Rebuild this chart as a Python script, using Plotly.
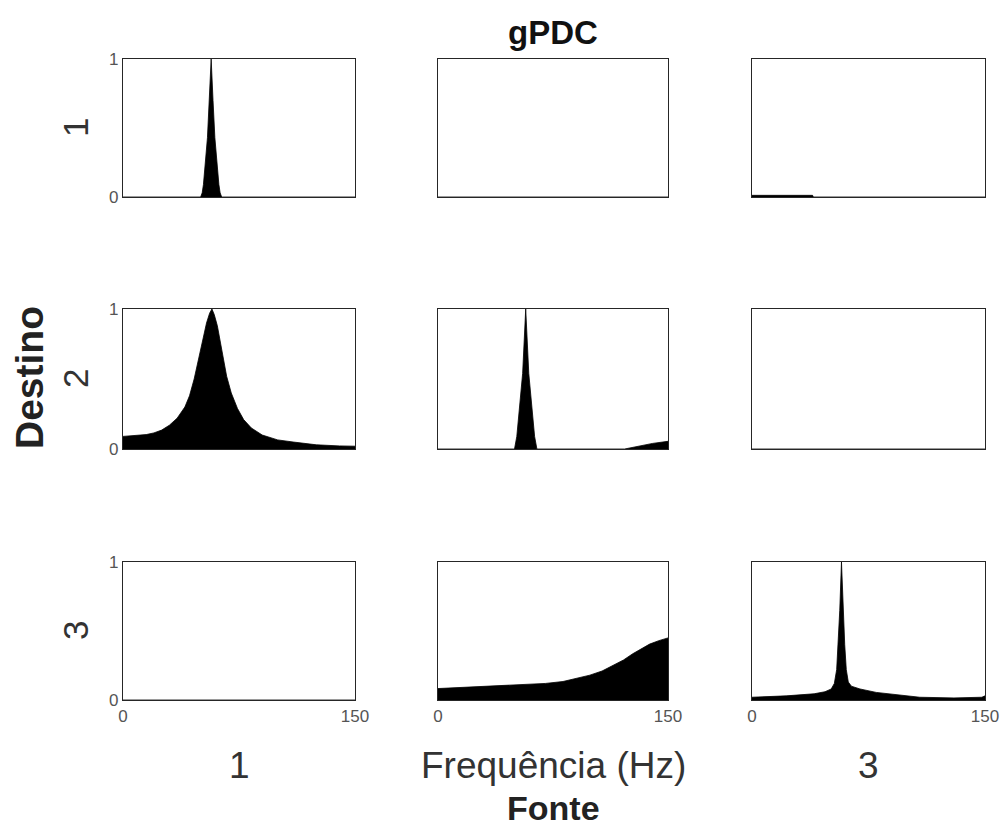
import plotly.graph_objects as go

# ---- data ----
f11 = [0, 50.2, 51.2, 52, 54.6, 55.8, 57, 58.2, 59.4, 62, 62.8, 63.8, 150]
v11 = [0, 0, 0.03, 0.09, 0.43, 0.7, 1.0, 0.7, 0.43, 0.09, 0.03, 0, 0]

f12 = [0, 150]
v12 = [0, 0]

f13 = [0, 39, 39.5, 150]
v13 = [0.012, 0.012, 0, 0]

f21 = [0, 5, 10, 15, 20, 25, 30, 35, 40, 43, 46, 49, 52, 54, 56, 57.5, 59, 61, 63, 65, 67, 70, 74, 78,
       83, 90, 100, 110, 125, 140, 150]
v21 = [0.09, 0.093, 0.097, 0.103, 0.115, 0.135, 0.17, 0.22, 0.3, 0.38, 0.5, 0.64, 0.8, 0.9, 0.97, 1.0,
       0.96, 0.88, 0.76, 0.63, 0.52, 0.4, 0.29, 0.21, 0.15, 0.1, 0.065, 0.05, 0.03, 0.022, 0.02]

f22 = [0, 49.9, 51.4, 55.2, 57.2, 59.2, 63, 64.5, 121.7, 130, 140, 150]
v22 = [0, 0, 0.09, 0.54, 1.0, 0.54, 0.09, 0, 0, 0.02, 0.04, 0.055]

f23 = [0, 150]
v23 = [0, 0]

f31 = [0, 150]
v31 = [0, 0]

f32 = [0, 15, 35, 55, 70, 81.5, 90, 99, 107, 114, 121, 127, 133, 138, 144, 150]
v32 = [0.083, 0.09, 0.1, 0.11, 0.12, 0.134, 0.155, 0.18, 0.21, 0.25, 0.29, 0.335, 0.375, 0.405, 0.43, 0.45]

f33 = [0, 22, 40, 47, 51, 53, 54.5, 55.5, 56.5, 57.6, 58.7, 59.7, 60.7, 62, 64, 69.5, 80, 95, 108, 130,
       148, 150]
v33 = [0.02, 0.03, 0.045, 0.06, 0.08, 0.12, 0.22, 0.4, 0.65, 1.0, 0.65, 0.4, 0.22, 0.13, 0.1, 0.08,
       0.055, 0.035, 0.02, 0.015, 0.02, 0.03]

panels = [[(f11, v11), (f12, v12), (f13, v13)],
          [(f21, v21), (f22, v22), (f23, v23)],
          [(f31, v31), (f32, v32), (f33, v33)]]

row_labels = ["1", "2", "3"]
col_labels = ["1", "Frequência (Hz)", "3"]
x_ticks = [0, 150]
y_ticks = [0, 1]
title = "gPDC"
ylab = "Destino"
xlab = "Fonte"

# ---- layout geometry ----
W, H = 1005, 828


def px(x):
    return x / W


def py(y):
    return 1 - y / H


xdoms = [(px(123), px(355)), (px(438), px(668)), (px(752), px(985))]
ydoms = [(py(197), py(59)), (py(449), py(309)), (py(700), py(562))]

FONT = "Liberation Sans, Arial, Helvetica, sans-serif"
fig = go.Figure()
layout = {}
for r in range(3):
    for c in range(3):
        k = r * 3 + c + 1
        xa = "x" if k == 1 else f"x{k}"
        ya = "y" if k == 1 else f"y{k}"
        f, v = panels[r][c]
        fig.add_trace(go.Scatter(x=f, y=v, xaxis=xa, yaxis=ya, mode="lines",
                                 fill="tozeroy", fillcolor="black",
                                 line=dict(color="black", width=0.8),
                                 showlegend=False, hoverinfo="skip"))
        xkey = "xaxis" if k == 1 else f"xaxis{k}"
        ykey = "yaxis" if k == 1 else f"yaxis{k}"
        layout[xkey] = dict(domain=list(xdoms[c]), range=[0, 150], anchor=ya, automargin=False,
                            showline=True, mirror=True, linecolor="#262626", linewidth=1.2,
                            showgrid=False, zeroline=False, ticks="",
                            tickvals=x_ticks, showticklabels=(r == 2),
                            tickfont=dict(family=FONT, size=17, color="#555555"))
        layout[ykey] = dict(domain=list(ydoms[r]), range=[0, 1], anchor=xa, automargin=False,
                            showline=True, mirror=True, linecolor="#262626", linewidth=1.2,
                            showgrid=False, zeroline=False, ticks="",
                            tickvals=y_ticks, showticklabels=(c == 0),
                            tickfont=dict(family=FONT, size=17, color="#555555"))

fig.update_layout(**layout)

ann = []
ann.append(dict(text=f"<b>{title}</b>", x=px(553), y=py(33), xref="paper", yref="paper",
                showarrow=False, font=dict(family=FONT, size=33, color="#111111"),
                xanchor="center", yanchor="middle"))
for r, lab in enumerate(row_labels):
    yc = (ydoms[r][0] + ydoms[r][1]) / 2
    ann.append(dict(text=lab, x=px(75), y=yc, xref="paper", yref="paper", textangle=-90,
                    showarrow=False, font=dict(family=FONT, size=35, color="#333333"),
                    xanchor="center", yanchor="middle"))
for c, lab in enumerate(col_labels):
    xc = (xdoms[c][0] + xdoms[c][1]) / 2
    ann.append(dict(text=lab, x=xc, y=py(765), xref="paper", yref="paper",
                    showarrow=False, font=dict(family=FONT, size=37, color="#333333"),
                    xanchor="center", yanchor="middle"))
ann.append(dict(text=f"<b>{ylab}</b>", x=px(29), y=py(378), xref="paper", yref="paper",
                textangle=-90, showarrow=False, font=dict(family=FONT, size=39, color="#222222"),
                xanchor="center", yanchor="middle"))
ann.append(dict(text=f"<b>{xlab}</b>", x=px(553), y=py(808), xref="paper", yref="paper",
                showarrow=False, font=dict(family=FONT, size=34, color="#222222"),
                xanchor="center", yanchor="middle"))

fig.update_layout(width=W, height=H, margin=dict(l=0, r=0, t=0, b=0),
                  paper_bgcolor="white", plot_bgcolor="white", annotations=ann,
                  font=dict(family=FONT))

fig.write_html("out.html", config={"displayModeBar": False},
               post_script="document.body.style.margin='0px';document.body.style.overflow='hidden';")
